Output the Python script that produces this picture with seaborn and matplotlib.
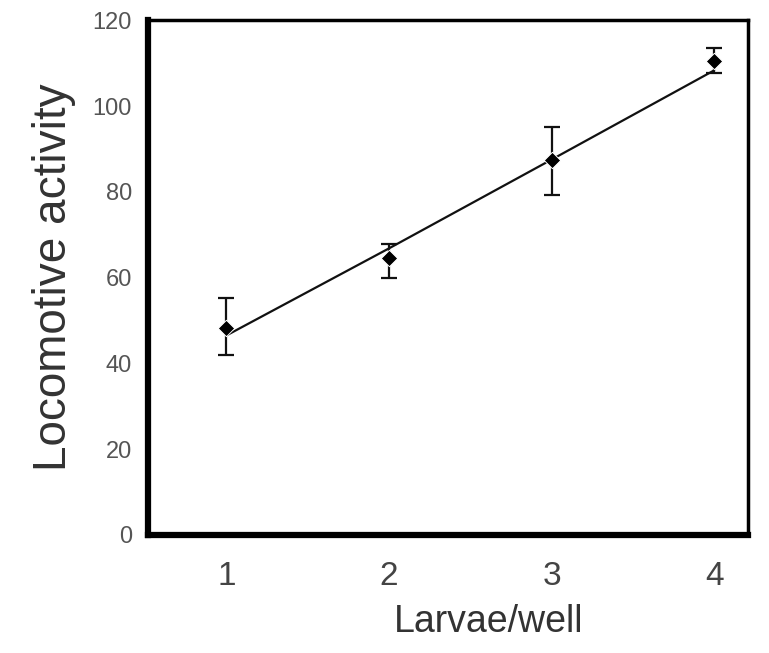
import numpy as np
import pandas as pd
import matplotlib
matplotlib.use("Agg")
import matplotlib.pyplot as plt
import seaborn as sns

# Data
larvae = [1, 2, 3, 4]
activity = [48.3, 64.5, 87.3, 110.5]
err_low = [42.0, 60.0, 79.3, 107.8]
err_high = [55.2, 67.8, 95.0, 113.5]
fit_x = [1, 2, 3, 4]
fit_y = [46.5, 66.8, 87.5, 108.3]

df = pd.DataFrame({"Larvae/well": larvae, "activity": activity})
fit = pd.DataFrame({"x": fit_x, "y": fit_y})

sns.set_style("white")
plt.rcParams["font.family"] = ["Liberation Sans", "DejaVu Sans"]

fig = plt.figure(figsize=(7.69, 6.53), dpi=100)
ax = fig.add_axes([0.193, 0.181, 0.780, 0.788])

# fitted line
sns.lineplot(data=fit, x="x", y="y", color="#111111", linewidth=1.6, ax=ax)

# error bars
yerr = [np.array(activity) - np.array(err_low), np.array(err_high) - np.array(activity)]
ax.errorbar(larvae, activity, yerr=yerr, fmt="none", ecolor="#111111",
            elinewidth=1.6, capsize=6, capthick=1.6)

# mean points
sns.scatterplot(data=df, x="Larvae/well", y="activity", color="black",
                marker="D", s=70, ax=ax, zorder=5)

ax.set_xlim(0.52, 4.21)
ax.set_ylim(0, 120)
ax.set_xticks(larvae)
ax.set_yticks([0, 20, 40, 60, 80, 100, 120])

for side in ["left", "bottom"]:
    ax.spines[side].set_linewidth(4.5)
for side in ["top", "right"]:
    ax.spines[side].set_linewidth(2.5)
for s in ax.spines.values():
    s.set_color("black")

ax.tick_params(axis="y", direction="out", length=7, width=1.5, color="#777777",
               labelsize=17, labelcolor="#555555", pad=5)
ax.tick_params(axis="x", direction="out", length=7, width=2.5, color="#222222",
               labelsize=24, labelcolor="#444444", pad=12)
ax.set_xlabel("Larvae/well", fontsize=27, color="#333333")
ax.xaxis.set_label_coords(0.568, -0.135)
ax.set_ylabel("Locomotive activity", fontsize=33, color="#333333", labelpad=12)

fig.savefig("out.png", dpi=100)
